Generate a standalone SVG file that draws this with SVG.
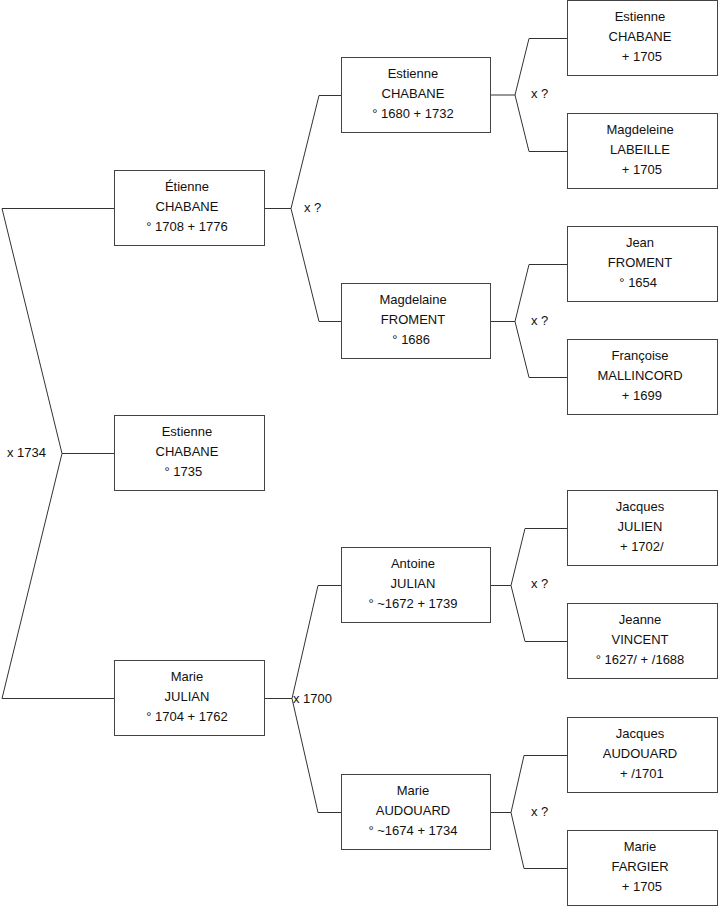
<svg xmlns="http://www.w3.org/2000/svg" width="719" height="908" viewBox="0 0 719 908">
<style>
.box{fill:#fff;stroke:#444;stroke-width:1}
.ln{fill:none;stroke:#333;stroke-width:1}
text{font-family:"Liberation Sans",Arial,sans-serif;font-size:13px;fill:#111;white-space:pre}
.c{text-anchor:middle}
</style>
<rect width="719" height="908" fill="#fff"/>
<g id="connectors">
<polyline class="ln" points="114.5,208.5 2,208.5 62,453.5 2,698.5 114.5,698.5"/>
<line class="ln" x1="62" y1="453.5" x2="114.5" y2="453.5"/>
<polyline class="ln" points="264.5,208.5 291,208.5"/>
<polyline class="ln" points="341.5,95.5 319,95.5 291,208.5 319,321.5 341.5,321.5"/>
<polyline class="ln" points="264.5,698.5 292,698.5"/>
<polyline class="ln" points="341.5,585.5 318,585.5 292,698.5 318,812.5 341.5,812.5"/>
<polyline class="ln" points="490.5,95 515,95"/>
<polyline class="ln" points="567.5,38.5 529,38.5 515,95 529,151.5 567.5,151.5"/>
<polyline class="ln" points="490.5,321.5 515,321.5"/>
<polyline class="ln" points="567.5,264.5 529,264.5 515,321.5 529,377.5 567.5,377.5"/>
<polyline class="ln" points="490.5,585.5 511,585.5"/>
<polyline class="ln" points="567.5,528.5 525,528.5 511,585.5 525,641.5 567.5,641.5"/>
<polyline class="ln" points="490.5,812.5 511,812.5"/>
<polyline class="ln" points="567.5,755.5 524,755.5 511,812.5 524,868.5 567.5,868.5"/>
<text x="7" y="457">x 1734</text>
<text x="304" y="212">x ?</text>
<text x="293" y="703">x 1700</text>
<text x="531" y="98">x ?</text>
<text x="531" y="325">x ?</text>
<text x="531" y="588">x ?</text>
<text x="531" y="816">x ?</text>
</g>
<g id="n_etienne_1708">
<rect class="box" x="114.5" y="170.5" width="150" height="75"/>
<text class="c" x="187" y="191">Étienne</text>
<text class="c" x="187" y="211">CHABANE</text>
<text class="c" x="187" y="231">° 1708 + 1776</text>
</g>
<g id="n_estienne_1735">
<rect class="box" x="114.5" y="415.5" width="150" height="75"/>
<text class="c" x="187" y="436">Estienne</text>
<text class="c" x="187" y="456">CHABANE</text>
<text class="c" x="187" y="476">° 1735  </text>
</g>
<g id="n_marie_julian">
<rect class="box" x="114.5" y="660.5" width="150" height="75"/>
<text class="c" x="187" y="681">Marie</text>
<text class="c" x="187" y="701">JULIAN</text>
<text class="c" x="187" y="721">° 1704 + 1762</text>
</g>
<g id="n_estienne_1680">
<rect class="box" x="341.5" y="57.5" width="149" height="75"/>
<text class="c" x="413" y="78">Estienne</text>
<text class="c" x="413" y="98">CHABANE</text>
<text class="c" x="413" y="118">° 1680 + 1732</text>
</g>
<g id="n_magdelaine_froment">
<rect class="box" x="341.5" y="283.5" width="149" height="75"/>
<text class="c" x="413" y="304">Magdelaine</text>
<text class="c" x="413" y="324">FROMENT</text>
<text class="c" x="413" y="344">° 1686 </text>
</g>
<g id="n_antoine_julian">
<rect class="box" x="341.5" y="547.5" width="149" height="75"/>
<text class="c" x="413" y="568">Antoine</text>
<text class="c" x="413" y="588">JULIAN</text>
<text class="c" x="413" y="608">° ~1672 + 1739</text>
</g>
<g id="n_marie_audouard">
<rect class="box" x="341.5" y="774.5" width="149" height="75"/>
<text class="c" x="413" y="795">Marie</text>
<text class="c" x="413" y="815">AUDOUARD</text>
<text class="c" x="413" y="835">° ~1674 + 1734</text>
</g>
<g id="n_estienne_chabane_1705">
<rect class="box" x="567.5" y="0.5" width="150" height="75"/>
<text class="c" x="640" y="21">Estienne</text>
<text class="c" x="640" y="41">CHABANE</text>
<text class="c" x="640" y="61"> + 1705</text>
</g>
<g id="n_magdeleine_labeille">
<rect class="box" x="567.5" y="113.5" width="150" height="75"/>
<text class="c" x="640" y="134">Magdeleine</text>
<text class="c" x="640" y="154">LABEILLE</text>
<text class="c" x="640" y="174"> + 1705</text>
</g>
<g id="n_jean_froment">
<rect class="box" x="567.5" y="226.5" width="150" height="75"/>
<text class="c" x="640" y="247">Jean</text>
<text class="c" x="640" y="267">FROMENT</text>
<text class="c" x="640" y="287">° 1654 </text>
</g>
<g id="n_francoise_mallincord">
<rect class="box" x="567.5" y="339.5" width="150" height="75"/>
<text class="c" x="640" y="360">Françoise</text>
<text class="c" x="640" y="380">MALLINCORD</text>
<text class="c" x="640" y="400"> + 1699</text>
</g>
<g id="n_jacques_julien">
<rect class="box" x="567.5" y="490.5" width="150" height="75"/>
<text class="c" x="640" y="511">Jacques</text>
<text class="c" x="640" y="531">JULIEN</text>
<text class="c" x="640" y="551"> + 1702/</text>
</g>
<g id="n_jeanne_vincent">
<rect class="box" x="567.5" y="603.5" width="150" height="75"/>
<text class="c" x="640" y="624">Jeanne</text>
<text class="c" x="640" y="644">VINCENT</text>
<text class="c" x="640" y="664">° 1627/ + /1688</text>
</g>
<g id="n_jacques_audouard">
<rect class="box" x="567.5" y="717.5" width="150" height="75"/>
<text class="c" x="640" y="738">Jacques</text>
<text class="c" x="640" y="758">AUDOUARD</text>
<text class="c" x="640" y="778"> + /1701</text>
</g>
<g id="n_marie_fargier">
<rect class="box" x="567.5" y="830.5" width="150" height="75"/>
<text class="c" x="640" y="851">Marie</text>
<text class="c" x="640" y="871">FARGIER</text>
<text class="c" x="640" y="891"> + 1705</text>
</g>
</svg>
